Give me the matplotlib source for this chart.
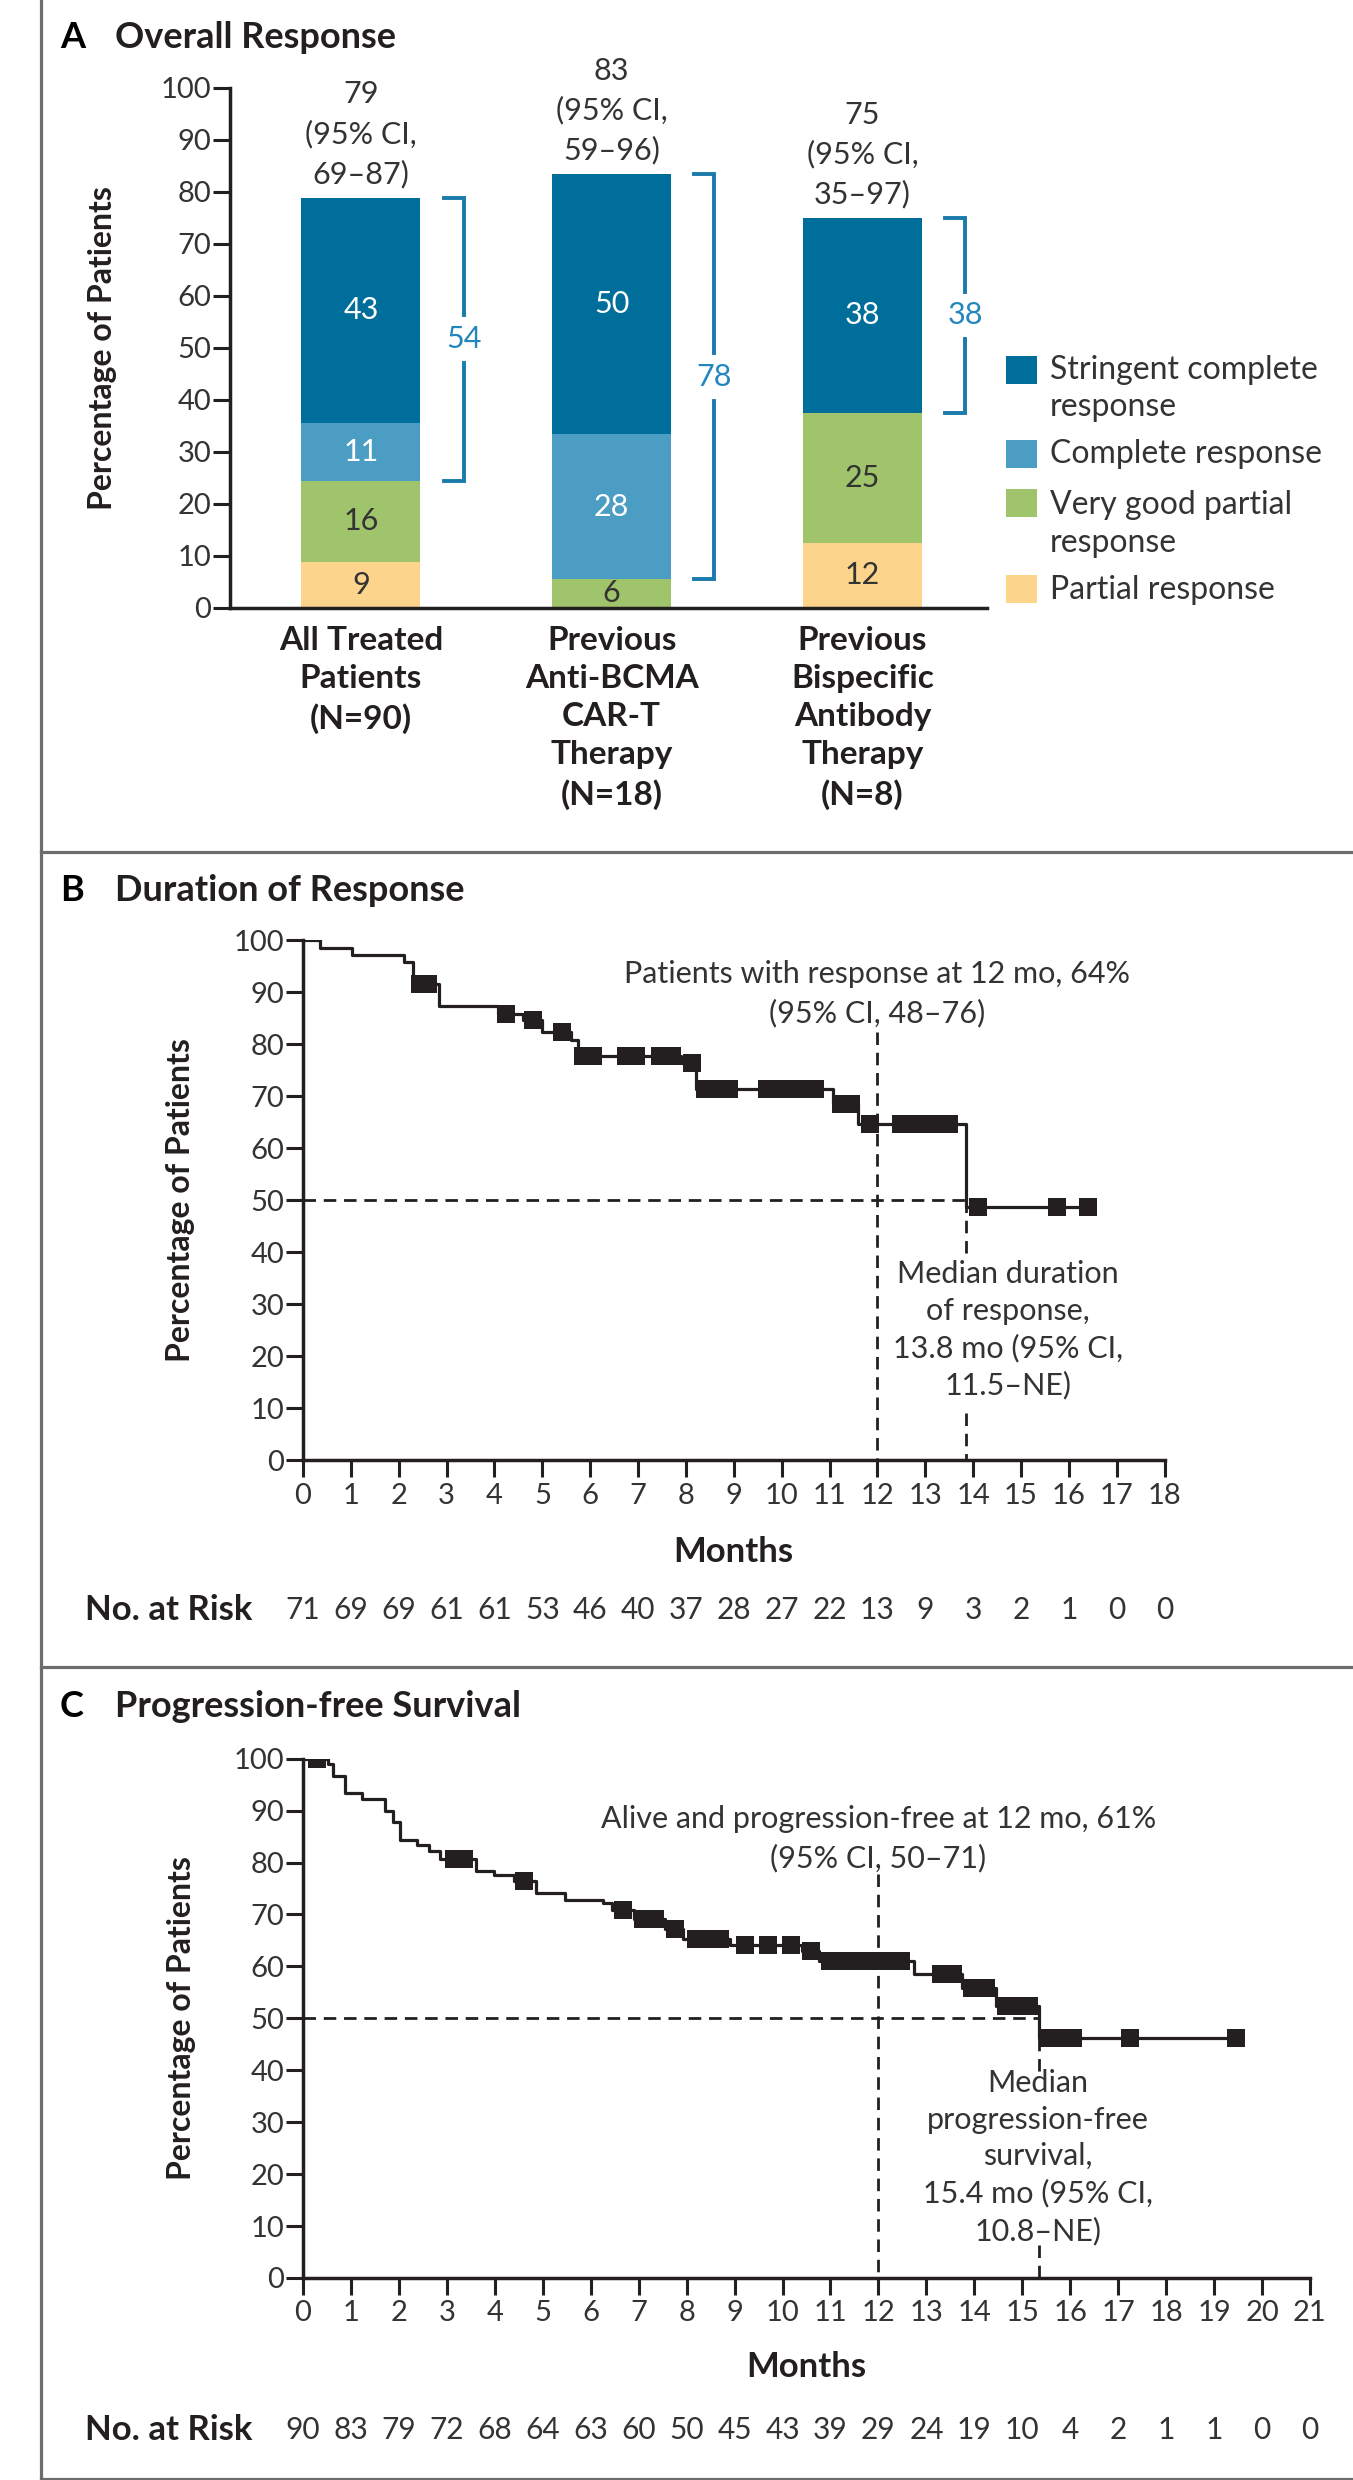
import numpy as np
import matplotlib
matplotlib.use('Agg')
import matplotlib.pyplot as plt
from matplotlib.patches import Rectangle
from matplotlib.lines import Line2D

W, H = 1353, 2480
plt.rcParams['font.family'] = ['Lato', 'DejaVu Sans']

INK = '#231f20'
TXT = '#333333'
BLUE = '#2387bd'
BORDER = '#6d6d6d'

# ---------------- panel A : overall response ----------------
groups = ['All Treated\nPatients\n(N=90)',
          'Previous\nAnti-BCMA\nCAR-T\nTherapy\n(N=18)',
          'Previous\nBispecific\nAntibody\nTherapy\n(N=8)']
overall = [79, 83, 75]
overall_ci = ['69–87', '59–96', '35–97']
partial = [8.9, 0.0, 12.5]
very_good = [15.6, 5.6, 25.0]
complete = [11.1, 27.8, 0.0]
stringent = [43.3, 50.0, 37.5]
resp_labels = ['Partial response', 'Very good partial\nresponse',
               'Complete response', 'Stringent complete\nresponse']
resp_colors = ['#fdd48b', '#a0c46b', '#4c9dc4', '#006e9a']
num_colors = [TXT, TXT, 'white', 'white']

# ---------------- panel B : duration of response ----------------
dor_t = [0, 0.35, 1.03, 2.1, 2.3, 2.85, 4.08, 4.6, 5.0, 5.6, 5.75, 7.9, 8.2,
         11.07, 11.6, 13.85, 16.4]
dor_s = [100, 98.6, 97.2, 95.8, 91.6, 87.3, 85.9, 84.7, 82.4, 80.9, 77.8, 76.5,
         71.4, 68.6, 64.6, 48.7, 48.7]
dor_cens = [2.45, 2.62, 4.25, 4.8, 5.42, 5.85, 6.05, 6.75, 6.95, 7.45, 7.7,
            8.13, 8.4, 8.65, 8.9, 9.7, 9.95, 10.2, 10.45, 10.7, 11.25, 11.45,
            11.85, 12.5, 12.75, 13.0, 13.25, 13.5, 14.1, 15.75, 16.4]
dor_risk = [71, 69, 69, 61, 61, 53, 46, 40, 37, 28, 27, 22, 13, 9, 3, 2, 1, 0, 0]

# ---------------- panel C : progression-free survival ----------------
pfs_t = [0, 0.53, 0.62, 0.88, 1.23, 1.72, 1.88, 2.02, 2.37, 2.63, 2.86, 3.6,
         3.98, 4.4, 4.86, 5.47, 6.26, 6.45, 6.9, 7.55, 7.93, 8.9, 10.4, 10.77,
         12.75, 13.75, 14.45, 15.35, 19.45]
pfs_s = [100, 98.9, 96.7, 93.3, 92.2, 89.9, 87.8, 84.4, 83.3, 82.2, 80.6, 78.3,
         77.7, 76.5, 74.1, 72.8, 72.2, 70.8, 69.2, 67.3, 65.3, 64.2, 62.9, 61.0,
         58.6, 55.9, 52.4, 46.2, 46.2]
pfs_cens = [0.3, 3.15, 3.35, 4.6, 6.68, 7.1, 7.35, 7.75, 8.2, 8.45, 8.7, 9.22,
            9.7, 10.17, 10.6, 11.0, 11.25, 11.5, 11.75, 12.0, 12.25, 12.47,
            13.3, 13.55, 13.95, 14.25, 14.65, 14.9, 15.15, 15.55, 15.8, 16.05,
            17.25, 19.45]
pfs_risk = [90, 83, 79, 72, 68, 64, 63, 60, 50, 45, 43, 39, 29, 24, 19, 10, 4,
            2, 1, 1, 0, 0]


def rect_px(l, t, r, b):
    return [l / W, 1 - b / H, (r - l) / W, (b - t) / H]


def style_axes(ax):
    for s in ['top', 'right']:
        ax.spines[s].set_visible(False)
    for s in ['left', 'bottom']:
        ax.spines[s].set_linewidth(2.5)
        ax.spines[s].set_color(INK)
    ax.tick_params(direction='out', length=12, width=2.2, color=INK,
                   labelsize=21, labelcolor=TXT)
    ax.tick_params(axis='y', pad=1.5)
    ax.set_ylim(0, 100)
    ax.set_yticks(range(0, 101, 10))
    ax.set_ylabel('Percentage of Patients', fontsize=23, weight='bold',
                  color=INK)
    ax.yaxis.label.set_va('center')


fig = plt.figure(figsize=(W / 100, H / 100), dpi=100)

# frame lines
fig.add_artist(Line2D([41 / W, 41 / W], [0, 1], color=BORDER, lw=2.3))
for yb in [852, 1667, 2478.5]:
    fig.add_artist(Line2D([41 / W, 1], [1 - yb / H] * 2, color=BORDER, lw=2.3))

for letter, title, base in [('A', 'Overall Response', 48),
                            ('B', 'Duration of Response', 901),
                            ('C', 'Progression-free Survival', 1717)]:
    fig.text(60 / W, 1 - base / H, letter, fontsize=26, weight='bold',
             color='black', va='baseline')
    fig.text(115 / W, 1 - base / H, title, fontsize=26, weight='bold',
             color=INK, va='baseline')

# ---------------- panel A ----------------
axA = fig.add_axes(rect_px(230, 88, 987, 608))
style_axes(axA)
axA.yaxis.set_label_coords(-0.168, 0.5)
x = np.arange(len(groups))
bottom = np.zeros(len(groups))
for vals, col, ncol in zip([partial, very_good, complete, stringent],
                           resp_colors, num_colors):
    vals = np.array(vals)
    axA.bar(x, vals, width=0.475, bottom=bottom, color=col, linewidth=0)
    for xi, v, b in zip(x, vals, bottom):
        if v > 0:
            axA.text(xi, b + v / 2, f'{round(v)}', ha='center', va='center',
                     fontsize=22, color=ncol)
    bottom = bottom + vals
axA.set_xlim(-0.522, 2.497)
axA.set_xticks(x, groups)
axA.tick_params(axis='x', length=0, pad=13, labelsize=24, labelcolor=INK)
for lab in axA.get_xticklabels():
    lab.set_fontweight('bold')
    lab.set_linespacing(1.38)

for xi, top, val, ci in zip(x, bottom, overall, overall_ci):
    axA.annotate(f'{val}\n(95% CI,\n{ci})', (xi, top), xytext=(0, 7),
                 textcoords='offset points', ha='center', va='bottom',
                 fontsize=22, color=TXT, linespacing=1.47)

# complete-response brackets
cr_lo = np.array(partial) + np.array(very_good)
for xi, lo, hi, c, s in zip(x, cr_lo, bottom, complete, stringent):
    bx = xi + 0.41
    mid = (lo + hi) / 2
    gap = 4.6
    axA.plot([bx - 0.08, bx, bx], [hi, hi, mid + gap], color='#1a7aab',
             lw=2.8, solid_joinstyle='miter', clip_on=False)
    axA.plot([bx - 0.08, bx, bx], [lo, lo, mid - gap], color='#1a7aab',
             lw=2.8, solid_joinstyle='miter', clip_on=False)
    axA.text(bx, mid, f'{round(c + s)}', ha='center', va='center',
             fontsize=22, color=BLUE)

# legend, drawn in figure pixels
leg_box_y = [589, 503, 454, 370]
leg_txt_y = [590, 524, 454, 388.5]
for lab, col, by, ty in zip(resp_labels, resp_colors, leg_box_y, leg_txt_y):
    fig.add_artist(Rectangle((1006 / W, 1 - (by + 14) / H), 31 / W, 28 / H,
                             color=col, lw=0))
    fig.text(1050 / W, 1 - ty / H, lab, fontsize=23, color=TXT, va='center',
             linespacing=1.32)


# ---------------- KM panels ----------------
def km_panel(rect, t, s, cens, risk, xmax, median, at12, top_note,
             med_note, med_xy, med_gap, v12_top, risk_y, months_y, ylab_x):
    ax = fig.add_axes(rect)
    style_axes(ax)
    ax.yaxis.set_label_coords(ylab_x, 0.5)
    ax.set_xlim(0, xmax)
    ax.set_xticks(range(0, xmax + 1))
    ax.tick_params(axis='x', pad=4)
    ax.step(t, s, where='post', color=INK, lw=2.3, zorder=3)
    idx = np.searchsorted(t, cens, side='right') - 1
    ax.plot(cens, np.array(s)[idx], 's', ms=12.5, color=INK, mew=0, zorder=4)
    dash = (0, (4.5, 2.8))
    ax.plot([0, median], [50, 50], color=INK, lw=2, ls=dash, zorder=2)
    ax.plot([median, median], [50, med_gap[0]], color=INK, lw=2, ls=dash)
    ax.plot([median, median], [med_gap[1], 0], color=INK, lw=2, ls=dash)
    ax.plot([12, 12], [v12_top, 0], color=INK, lw=2, ls=dash, zorder=2)
    ax.text(12, at12, top_note, ha='center', va='center', fontsize=22,
            color=TXT, linespacing=1.45)
    ax.text(med_xy[0], med_xy[1], med_note, ha='center', va='center',
            fontsize=22, color=TXT, linespacing=1.37)
    ax.set_xlabel('Months', fontsize=25, weight='bold', color=INK)
    ax.xaxis.set_label_coords(0.5, months_y)
    ax.xaxis.label.set_va('center')
    tr = ax.get_xaxis_transform()
    for m, n in enumerate(risk):
        ax.text(m, risk_y, str(n), transform=tr, ha='center', va='center',
                fontsize=21.5, color=TXT)
    return ax


axB = km_panel(rect_px(303, 940.3, 1164.6, 1460.4), dor_t, dor_s, dor_cens,
               dor_risk, 18, 13.85, 89.7,
               'Patients with response at 12 mo, 64%\n(95% CI, 48–76)',
               'Median duration\nof response,\n13.8 mo (95% CI,\n11.5–NE)',
               (14.73, 25.1), (39.1, 9.1), 82.4, -0.2877, -0.176, -0.1416)
fig.text(85 / W, 1 - 1610 / H, 'No. at Risk', fontsize=25, weight='bold',
         color=INK, va='center')

axC = km_panel(rect_px(303, 1758.7, 1310, 2278), pfs_t, pfs_s, pfs_cens,
               pfs_risk, 21, 15.35, 84.6,
               'Alive and progression-free at 12 mo, 61%\n(95% CI, 50–71)',
               'Median\nprogression-free\nsurvival,\n15.4 mo (95% CI,\n10.8–NE)',
               (15.33, 23.3), (39.5, 6.4), 77.8, -0.2927, -0.171, -0.121)
fig.text(85 / W, 1 - 2430 / H, 'No. at Risk', fontsize=25, weight='bold',
         color=INK, va='center')

fig.savefig('out.png', dpi=100)
